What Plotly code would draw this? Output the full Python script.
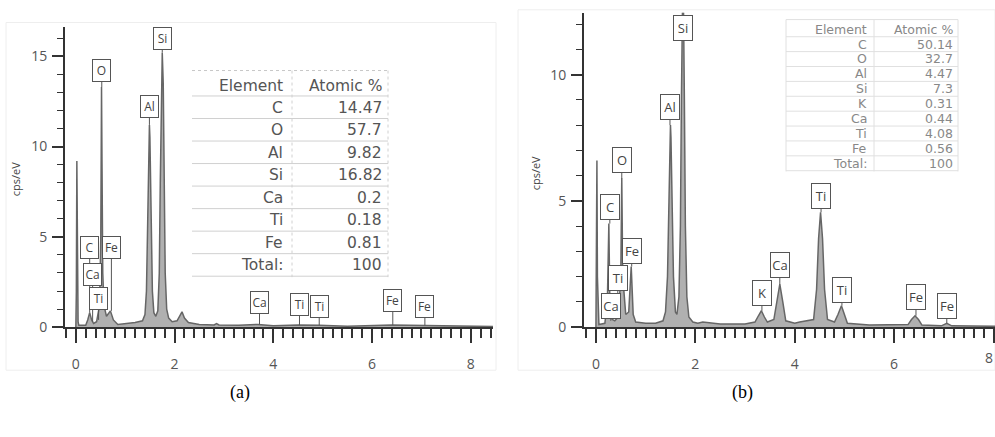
import plotly.graph_objects as go

W, H = 995, 437

# ---------------- data: panel (a) ----------------
energy_a = [0.00, 0.01, 0.02, 0.03, 0.045, 0.06, 0.20, 0.24, 0.28, 0.32, 0.36, 0.42,
            0.48, 0.505, 0.52, 0.53, 0.545, 0.57, 0.62, 0.70, 0.76, 0.85, 1.00, 1.20,
            1.35, 1.40, 1.43, 1.46, 1.48, 1.49, 1.50, 1.52, 1.55, 1.58, 1.62, 1.66,
            1.69, 1.71, 1.73, 1.75, 1.77, 1.79, 1.81, 1.84, 1.88, 1.95, 2.05, 2.10,
            2.15, 2.20, 2.28, 2.50, 2.80, 2.85, 2.90, 3.30, 3.69, 4.00, 4.51, 4.93,
            5.50, 6.40, 7.06, 8.45]
counts_a = [0.0, 2.0, 9.2, 3.0, 0.3, 0.1, 0.1, 0.4, 0.8, 0.4, 0.2, 0.3,
            1.2, 5.0, 13.3, 9.0, 3.0, 1.2, 0.6, 0.9, 0.4, 0.15, 0.2, 0.25,
            0.35, 0.7, 2.0, 6.0, 10.5, 11.2, 10.5, 6.0, 2.0, 0.8, 0.6, 0.9,
            3.0, 8.0, 13.5, 15.2, 13.5, 8.0, 3.0, 1.0, 0.5, 0.3, 0.35, 0.6,
            0.85, 0.5, 0.25, 0.15, 0.12, 0.2, 0.12, 0.1, 0.15, 0.08, 0.12, 0.1,
            0.05, 0.12, 0.08, 0.03]
lab_a_text = ["O", "Si", "Al", "C", "Fe", "Ca", "Ti", "Ca", "Ti", "Ti", "Fe", "Fe"]
lab_a_x = [0.525, 1.75, 1.49, 0.28, 0.72, 0.34, 0.46, 3.72, 4.53, 4.93, 6.42, 7.07]
lab_a_peak = [13.3, 15.2, 11.2, 0.8, 0.9, 0.3, 0.4, 0.15, 0.12, 0.1, 0.12, 0.08]
lab_a_box = [14.2, 16.0, 12.2, 4.4, 4.4, 2.9, 1.6, 1.35, 1.25, 1.15, 1.47, 1.15]
elements_a = ["C", "O", "Al", "Si", "Ca", "Ti", "Fe", "Total:"]
atomic_a = ["14.47", "57.7", "9.82", "16.82", "0.2", "0.18", "0.81", "100"]

# ---------------- data: panel (b) ----------------
energy_b = [0.00, 0.01, 0.02, 0.03, 0.045, 0.06, 0.18, 0.23, 0.26, 0.28, 0.33, 0.38,
            0.45, 0.50, 0.52, 0.54, 0.60, 0.66, 0.71, 0.75, 0.80, 1.00, 1.20, 1.35,
            1.40, 1.44, 1.47, 1.49, 1.50, 1.51, 1.53, 1.56, 1.60, 1.63, 1.67, 1.70,
            1.72, 1.74, 1.75, 1.76, 1.78, 1.80, 1.83, 1.87, 1.95, 2.05, 2.15, 2.50,
            3.00, 3.20, 3.27, 3.33, 3.39, 3.45, 3.58, 3.64, 3.70, 3.76, 3.82, 4.00,
            4.10, 4.38, 4.44, 4.48, 4.52, 4.56, 4.60, 4.66, 4.80, 4.87, 4.94, 5.00,
            5.06, 5.50, 6.28, 6.35, 6.42, 6.49, 6.56, 6.95, 7.06, 7.16, 8.10]
counts_b = [0.0, 2.0, 6.6, 2.0, 0.3, 0.1, 0.15, 1.0, 4.1, 1.0, 0.3, 0.25,
            0.4, 2.0, 5.9, 2.0, 0.5, 0.6, 2.4, 0.5, 0.2, 0.15, 0.15, 0.25,
            0.6, 2.0, 5.0, 7.5, 8.0, 7.5, 5.0, 2.0, 0.6, 0.5, 1.2, 4.0,
            9.0, 13.0, 14.0, 13.0, 9.0, 4.0, 1.2, 0.4, 0.2, 0.15, 0.2, 0.12,
            0.12, 0.2, 0.45, 0.65, 0.4, 0.2, 0.3, 1.0, 1.7, 1.0, 0.25, 0.15,
            0.2, 0.3, 1.5, 3.5, 4.55, 3.5, 1.5, 0.3, 0.2, 0.5, 0.85, 0.5,
            0.15, 0.08, 0.1, 0.3, 0.45, 0.3, 0.08, 0.05, 0.15, 0.05, 0.03]
lab_b_text = ["Si", "Al", "O", "C", "Fe", "Ti", "Ca", "K", "Ca", "Ti", "Ti", "Fe", "Fe"]
lab_b_x = [1.75, 1.49, 0.52, 0.28, 0.72, 0.44, 0.30, 3.34, 3.70, 4.53, 4.95, 6.44, 7.06]
lab_b_peak = [11.5, 8.0, 5.9, 4.1, 2.4, 0.4, 0.25, 0.65, 1.7, 4.55, 0.85, 0.45, 0.15]
lab_b_box = [11.85, 8.7, 6.6, 4.77, 3.0, 1.94, 0.85, 1.35, 2.45, 5.2, 1.47, 1.2, 0.85]
elements_b = ["C", "O", "Al", "Si", "K", "Ca", "Ti", "Fe", "Total:"]
atomic_b = ["50.14", "32.7", "4.47", "7.3", "0.31", "0.44", "4.08", "0.56", "100"]


def px(x):
    return x / W


def py(y):
    return 1 - y / H


fig = go.Figure()
for xs, ys, xa, ya in [(energy_a, counts_a, "x", "y"), (energy_b, counts_b, "x2", "y2")]:
    fig.add_trace(go.Scatter(x=xs, y=ys, mode="lines", fill="tozeroy",
                             fillcolor="#b0b0b0", line=dict(color="#666666", width=1.5),
                             xaxis=xa, yaxis=ya, hoverinfo="skip"))

tickfont = dict(family="Open Sans", size=14, color="#555")
common_x = dict(showgrid=False, zeroline=False, showline=True, linecolor="#333", linewidth=2,
                ticks="outside", ticklen=14, tickwidth=2, tickcolor="#333", dtick=2, tick0=0,
                tickfont=tickfont, ticklabelstandoff=9,
                minor=dict(dtick=0.2, ticks="outside", ticklen=9, tickwidth=1.5, tickcolor="#333"))
common_y = dict(showgrid=False, zeroline=False, showline=True, linecolor="#333", linewidth=2,
                ticks="outside", ticklen=11, tickwidth=1.5, tickcolor="#333", dtick=5, tick0=0,
                tickfont=tickfont, ticklabelstandoff=2,
                minor=dict(dtick=1, ticks="outside", ticklen=6, tickwidth=1, tickcolor="#333"))

fig.update_layout(
    width=W, height=H, margin=dict(l=0, r=0, t=0, b=0),
    plot_bgcolor="white", paper_bgcolor="white", showlegend=False,
    xaxis=dict(domain=[px(65), px(493)], range=[-0.22, 8.45], anchor="y", **common_x),
    yaxis=dict(domain=[py(334), py(28)], range=[0, 16.6], anchor="x", **common_y),
    xaxis2=dict(domain=[px(584), 1.0], range=[-0.24, 8.03], anchor="y2", **common_x),
    yaxis2=dict(domain=[py(334), py(13)], range=[0, 12.45], anchor="x2", **common_y),
)

annotations = []
shapes = []

# peak labels
for texts, xs, peaks, boxes, xr, yr, fs, bw, bh in [
        (lab_a_text, lab_a_x, lab_a_peak, lab_a_box, "x", "y", 12, 17, 21),
        (lab_b_text, lab_b_x, lab_b_peak, lab_b_box, "x2", "y2", 13, 18, 24)]:
    for t, x, pk, bx in zip(texts, xs, peaks, boxes):
        annotations.append(dict(
            x=x, y=pk, ax=x, ay=bx, xref=xr, yref=yr, axref=xr, ayref=yr,
            text=t, showarrow=True, arrowhead=0, arrowwidth=1, arrowcolor="#555",
            standoff=0, bgcolor="white", bordercolor="#555", borderwidth=1, borderpad=0,
            width=bw, height=bh, font=dict(family="Open Sans", size=fs, color="#444")))

# table (a)
tf_a = dict(family="DejaVu Sans", size=15.5, color="#555")
annotations.append(dict(x=px(285), y=py(88), xref="paper", yref="paper", text="Element",
                        showarrow=False, xanchor="right", yanchor="middle", font=tf_a))
annotations.append(dict(x=px(384), y=py(88), xref="paper", yref="paper", text="Atomic %",
                        showarrow=False, xanchor="right", yanchor="middle", font=tf_a))
for i, (e, v) in enumerate(zip(elements_a, atomic_a)):
    yy = 110 + 23 * i
    annotations.append(dict(x=px(285), y=py(yy), xref="paper", yref="paper", text=e,
                            showarrow=False, xanchor="right", yanchor="middle", font=tf_a))
    annotations.append(dict(x=px(384), y=py(yy), xref="paper", yref="paper", text=v,
                            showarrow=False, xanchor="right", yanchor="middle", font=tf_a))
shapes.append(dict(type="line", xref="paper", yref="paper", x0=px(192), x1=px(388),
                   y0=py(72), y1=py(72), line=dict(color="#c8c8c8", width=1, dash="dot")))
for i in range(9):
    yy = 98 + 23 * i
    shapes.append(dict(type="line", xref="paper", yref="paper", x0=px(192), x1=px(388),
                       y0=py(yy), y1=py(yy), line=dict(color="#d0d0d0", width=1)))
for xx in (292, 388):
    shapes.append(dict(type="line", xref="paper", yref="paper", x0=px(xx), x1=px(xx),
                       y0=py(72), y1=py(283), line=dict(color="#d0d0d0", width=1, dash="dot")))

# table (b)
tf_b = dict(family="DejaVu Sans", size=12.5, color="#888")
annotations.append(dict(x=px(869), y=py(30), xref="paper", yref="paper", text="Element",
                        showarrow=False, xanchor="right", yanchor="middle", font=tf_b))
annotations.append(dict(x=px(955), y=py(30), xref="paper", yref="paper", text="Atomic %",
                        showarrow=False, xanchor="right", yanchor="middle", font=tf_b))
for i, (e, v) in enumerate(zip(elements_b, atomic_b)):
    yy = 45 + 15.2 * i
    annotations.append(dict(x=px(869), y=py(yy), xref="paper", yref="paper", text=e,
                            showarrow=False, xanchor="right", yanchor="middle", font=tf_b))
    annotations.append(dict(x=px(955), y=py(yy), xref="paper", yref="paper", text=v,
                            showarrow=False, xanchor="right", yanchor="middle", font=tf_b))
shapes.append(dict(type="line", xref="paper", yref="paper", x0=px(786), x1=px(958),
                   y0=py(20), y1=py(20), line=dict(color="#e0e0e0", width=1)))
for i in range(10):
    yy = 37.5 + 15.2 * i
    shapes.append(dict(type="line", xref="paper", yref="paper", x0=px(786), x1=px(958),
                       y0=py(yy), y1=py(yy), line=dict(color="#e0e0e0", width=1)))
for xx in (786, 874, 958):
    shapes.append(dict(type="line", xref="paper", yref="paper", x0=px(xx), x1=px(xx),
                       y0=py(20), y1=py(175), line=dict(color="#e0e0e0", width=1)))

# panel frames
shapes.append(dict(type="rect", xref="paper", yref="paper", x0=px(6), x1=px(496),
                   y0=py(378), y1=py(23), line=dict(color="#eeeeee", width=1), layer="below"))
shapes.append(dict(type="rect", xref="paper", yref="paper", x0=px(518), x1=px(995),
                   y0=py(378), y1=py(10), line=dict(color="#eeeeee", width=1), layer="below"))

# last tick label of panel (b), kept fully inside the page
annotations.append(dict(x=1.0, y=py(365), xref="paper", yref="paper", text="8", showarrow=False,
                        xanchor="right", yanchor="middle", font=tickfont))

# axis titles
for xx, yy in ((15, 183), (535, 177)):
    annotations.append(dict(x=px(xx), y=py(yy), xref="paper", yref="paper", text="cps/eV",
                            textangle=-90, showarrow=False, xanchor="center", yanchor="middle",
                            font=dict(family="Open Sans", size=11, color="#444")))

# panel captions
for t, xx in (("(a)", 240), ("(b)", 742)):
    annotations.append(dict(x=px(xx), y=py(401), xref="paper", yref="paper", text=t,
                            showarrow=False, xanchor="center", yanchor="middle",
                            font=dict(family="Liberation Serif", size=18, color="black")))

fig.update_layout(annotations=annotations, shapes=shapes)
fig.write_html("out.html")
